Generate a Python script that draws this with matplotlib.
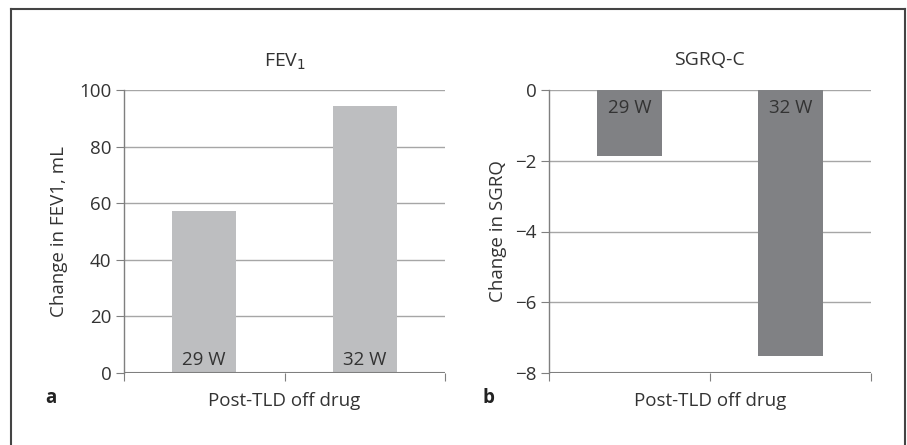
import matplotlib
matplotlib.use("Agg")
import matplotlib.pyplot as plt
from matplotlib.lines import Line2D

plt.rcParams['font.family'] = ['Open Sans', 'DejaVu Sans']

# data
weeks = ["29 W", "32 W"]
fev1_change = [57.2, 94.4]
sgrq_change = [-1.86, -7.53]

fev1_ticks = [0, 20, 40, 60, 80, 100]
sgrq_ticks = [0, -2, -4, -6, -8]

W, H = 907, 445
fig = plt.figure(figsize=(W / 100, H / 100), dpi=100)

grid_col = "#a6a6a6"
axis_col = "#7f7f7f"
text_col = "#333333"
fs = 13.5


def px_axes(x0, y0, x1, y1):
    return fig.add_axes([x0 / W, 1 - y1 / H, (x1 - x0) / W, (y1 - y0) / H])


def style(ax, ticks, ylim):
    ax.set_xlim(0, 2)
    ax.set_ylim(*ylim)
    ax.set_yticks(ticks)
    ax.set_xticks([0, 1, 2])
    ax.set_xticklabels([])
    for s in ["top", "right", "bottom"]:
        ax.spines[s].set_visible(False)
    ax.spines["left"].set_color(axis_col)
    ax.spines["left"].set_linewidth(1.0)
    ax.yaxis.grid(True, color=grid_col, linewidth=1.0)
    ax.set_axisbelow(True)
    ax.tick_params(axis="y", length=6, color=axis_col, labelsize=fs,
                   labelcolor=text_col, pad=3)
    ax.tick_params(axis="x", length=6, color=axis_col, direction="out")


# panel a
ax1 = px_axes(124, 90, 445, 373)
style(ax1, fev1_ticks, (0, 100))
ax1.bar([0.5, 1.5], fev1_change, width=0.4, color="#bdbec0", zorder=2)
ax1.axhline(0, color=axis_col, linewidth=1.5, zorder=3)
for x, lab in zip([0.5, 1.5], weeks):
    ax1.text(x, 1.5, lab, ha="center", va="bottom", fontsize=fs,
             color=text_col, zorder=4)
ax1.set_ylabel("Change in FEV1, mL", fontsize=fs, color=text_col, labelpad=8)
ax1.set_xlabel("Post-TLD off drug", fontsize=fs, color=text_col, labelpad=4)

# panel b
ax2 = px_axes(549, 90, 871, 373)
style(ax2, sgrq_ticks, (-8, 0))
ax2.bar([0.5, 1.5], sgrq_change, width=0.4, color="#808184", zorder=2)
ax2.axhline(-8, color=axis_col, linewidth=1.5, zorder=3)
for x, lab in zip([0.5, 1.5], weeks):
    ax2.text(x, -0.25, lab, ha="center", va="top", fontsize=fs,
             color=text_col, zorder=4)
ax2.set_ylabel("Change in SGRQ", fontsize=fs, color=text_col, labelpad=6)
ax2.set_xlabel("Post-TLD off drug", fontsize=fs, color=text_col, labelpad=4)

# titles
fig.text(285 / W, 1 - 62 / H, "FEV$_1$", fontsize=14, color=text_col,
         ha="center", va="center")
fig.text(709 / W, 1 - 60 / H, "SGRQ-C", fontsize=14, color=text_col,
         ha="center", va="center")

# panel letters
fig.text(45 / W, 1 - 398 / H, "a", fontsize=fs, fontweight="bold",
         color="#222222", va="center")
fig.text(482 / W, 1 - 398 / H, "b", fontsize=fs, fontweight="bold",
         color="#222222", va="center")

# outer frame (no bottom line)
fx0, fy0, fx1 = 11 / W, 1 - 9 / H, 905 / W
frame_kw = dict(color="#444444", linewidth=1.5, transform=fig.transFigure)
fig.add_artist(Line2D([fx0, fx1], [fy0, fy0], **frame_kw))
fig.add_artist(Line2D([fx0, fx0], [fy0, 0], **frame_kw))
fig.add_artist(Line2D([fx1, fx1], [fy0, 0], **frame_kw))

fig.savefig("out.png", dpi=100)
